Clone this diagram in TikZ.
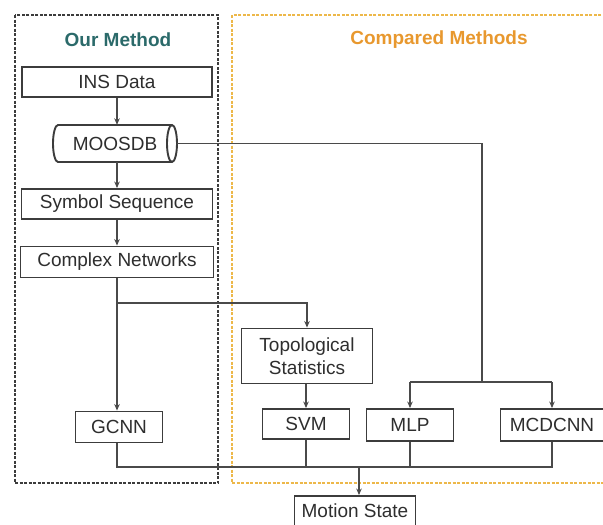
\documentclass[tikz,border=0pt]{standalone}
\usepackage{fontspec}
\setmainfont{Liberation Sans}
\usetikzlibrary{arrows.meta}
\definecolor{oursteal}{HTML}{2B6A6A}
\definecolor{cmporange}{HTML}{E8982E}
\definecolor{cmpframe}{HTML}{EDB84A}
\definecolor{boxgray}{HTML}{3C3C3C}
\definecolor{linkgray}{HTML}{4A4A4A}
\definecolor{txtgray}{HTML}{2E2E2E}
\begin{document}
\begin{tikzpicture}[x=1pt,y=-1pt,
  font=\fontsize{19}{23}\selectfont,
  blk/.style={draw=boxgray, line width=1.9pt, fill=white, inner sep=0pt,
              align=center, text=txtgray},
  link/.style={draw=linkgray, line width=1.8pt},
  arr/.style={link, -{Stealth[length=6.5pt,width=5.5pt]}},
  frame/.style={line width=1.8pt, dash pattern=on 3pt off 1.5pt},
  title/.style={font=\fontsize{19}{23}\selectfont\bfseries},
]
\useasboundingbox (0,0) rectangle (603,525);

% group frames
\draw[frame, draw=boxgray] (15,15) rectangle (218,483);
\draw[frame, draw=cmpframe] (232,15) rectangle (610,483);
\node[title, text=oursteal] (ttl1) at (118,40) {Our Method};
\node[title, text=cmporange] (ttl2) at (439,40) {Compared Methods};

% database drawn as a horizontal cylinder
\draw[boxgray, line width=1.9pt, fill=white]
  (58,125) -- (172,125)
  arc[start angle=90, end angle=-90, x radius=5pt, y radius=18.5pt]
  -- (58,162)
  arc[start angle=270, end angle=90, x radius=5pt, y radius=18.5pt] -- cycle;
\draw[boxgray, line width=1.9pt]
  (172,125) arc[start angle=90, end angle=270, x radius=5pt, y radius=18.5pt];
\node[inner sep=0pt, minimum width=124pt, minimum height=37pt, text=txtgray]
  (db) at (115,143.5) {MOOSDB};

% processing blocks
\node[blk, minimum width=190pt, minimum height=30pt] (ins) at (117,82) {INS Data};
\node[blk, minimum width=191pt, minimum height=30pt] (sym) at (117,204) {Symbol Sequence};
\node[blk, minimum width=193pt, minimum height=31pt] (cn) at (117,262) {Complex Networks};
\node[blk, minimum width=87pt, minimum height=31pt] (gcnn) at (119,427) {GCNN};
\node[blk, minimum width=131pt, minimum height=55pt] (topo) at (307,356) {Topological\\Statistics};
\node[blk, minimum width=87pt, minimum height=30pt] (svm) at (306,424) {SVM};
\node[blk, minimum width=87pt, minimum height=32pt] (mlp) at (410,425) {MLP};
\node[blk, minimum width=103pt, minimum height=32pt] (mcd) at (552,425) {MCDCNN};
\node[blk, minimum width=121pt, minimum height=30pt] (ms) at (355,511) {Motion State};

% junction points
\coordinate (split) at (117,303);
\coordinate (dbturn) at (482,382);
\coordinate (join) at (359,467);

% main pipeline
\draw[arr] (ins.south) -- (ins.south |- db.north);
\draw[arr] (ins.south |- db.south) -- (sym.north);
\draw[arr] (sym.south) -- (cn.north);
\draw[arr] (cn.south) -- (cn.south |- gcnn.north);

% branch to topological statistics
\draw[arr] (split) -| (topo.north);
\draw[arr] (topo.south -| svm.north) -- (svm.north);

% database feed for the compared networks
\draw[link] (db.east) -| (dbturn);
\draw[link] (mlp.north |- dbturn) -- (mcd.north |- dbturn);
\draw[arr] (mlp.north |- dbturn) -- (mlp.north);
\draw[arr] (mcd.north |- dbturn) -- (mcd.north);

% outputs to motion state
\draw[link] (cn.south |- gcnn.south) |- (mcd.south |- join) -- (mcd.south);
\draw[link] (svm.south) -- (svm.south |- join);
\draw[link] (mlp.south) -- (mlp.south |- join);
\draw[arr] (join) -- (ms.north -| join);
\end{tikzpicture}
\end{document}
